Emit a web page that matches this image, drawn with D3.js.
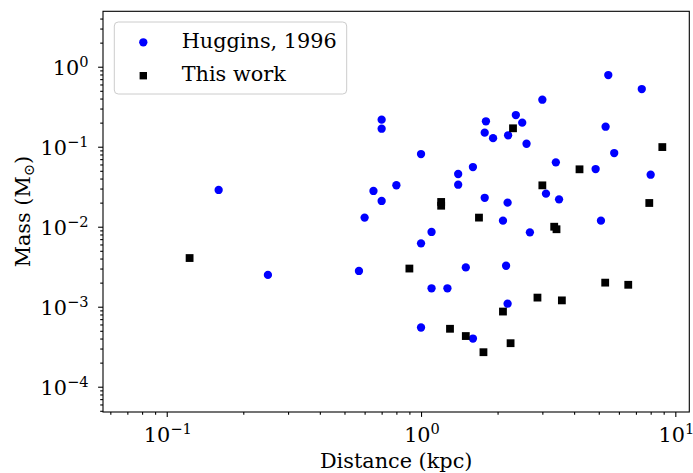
<!DOCTYPE html>
<html>
<head>
<meta charset="utf-8">
<script src="https://d3js.org/d3.v7.min.js"></script>
<style>
  body { margin: 0; background: #fff; }
  text { font-family: "DejaVu Serif", serif; fill: #000; }
</style>
</head>
<body>
<script>
"use strict";

// Huggins, 1996 (blue circles)
var hugDist = [0.16, 0.25, 0.57, 0.60, 0.65, 0.70, 0.70, 0.70, 0.80, 1.0, 1.0, 1.0, 1.1, 1.1, 1.27,
               1.4, 1.4, 1.5, 1.6, 1.6, 1.78, 1.78, 1.8, 1.92, 2.1, 2.16, 2.19, 2.19, 2.2, 2.36,
               2.5, 2.6, 2.68, 3.0, 3.1, 3.39, 3.49, 4.86, 5.1, 5.32, 5.45, 5.75, 7.38, 8.0];
var hugMass = [0.0288, 0.0025, 0.0028, 0.013, 0.028, 0.218, 0.168, 0.021, 0.033, 0.081, 0.0062, 0.00055, 0.0086, 0.0017, 0.0017,
               0.0456, 0.0335, 0.0031, 0.0557, 0.0004, 0.023, 0.150, 0.208, 0.128, 0.0119, 0.00325, 0.020, 0.00109, 0.139, 0.249,
               0.200, 0.109, 0.0085, 0.387, 0.0259, 0.0638, 0.022, 0.0526, 0.0119, 0.178, 0.787, 0.0834, 0.526, 0.0447];

// This work (black squares)
var workDist = [0.123, 0.90, 1.20, 1.20, 1.30, 1.50, 1.69, 1.76, 2.10, 2.25, 2.30,
                2.87, 3.0, 3.34, 3.41, 3.58, 4.20, 5.30, 6.53, 7.90, 8.89];
var workMass = [0.00406, 0.0030, 0.0204, 0.0183, 0.00053, 0.00043, 0.0130, 0.00027, 0.00087, 0.00035, 0.170,
                0.0013, 0.0329, 0.0100, 0.0093, 0.0012, 0.0522, 0.0020, 0.00188, 0.0198, 0.099];

var seriesNames = ["Huggins, 1996", "This work"];
var xTickExp = [-1, 0, 1];
var yTickExp = [-4, -3, -2, -1, 0];

var W = 693, H = 473;
var padL = 103, padT = 11.3, padR = 689.3, padB = 412;
var fs = 20.8, supFs = 14.6;

var svg = d3.select("body").append("svg")
    .attr("width", W)
    .attr("height", H);

var x = d3.scaleLog().domain([0.05615, 11.35]).range([padL, padR]);
var y = d3.scaleLog().domain([4.83e-5, 4.93]).range([padB, padT]);

// minor ticks 2..9 x 10^k inside the domain
function minors(scale) {
    var d = scale.domain(), out = [];
    for (var k = -6; k <= 2; k++) {
        for (var m = 2; m <= 9; m++) {
            var v = m * Math.pow(10, k);
            if (v >= d[0] && v <= d[1]) out.push(v);
        }
    }
    return out;
}
var pow10 = function (e) { return Math.pow(10, e); };

// x axis ticks
var gx = svg.append("g").attr("transform", "translate(0," + padB + ")");
gx.call(d3.axisBottom(x).tickValues(xTickExp.map(pow10)).tickSize(4.9).tickFormat(""));
gx.append("g").call(d3.axisBottom(x).tickValues(minors(x)).tickSize(2.8).tickFormat(""));
gx.selectAll(".domain").remove();

// y axis ticks
var gy = svg.append("g").attr("transform", "translate(" + padL + ",0)");
gy.call(d3.axisLeft(y).tickValues(yTickExp.map(pow10)).tickSize(4.9).tickFormat(""));
gy.append("g").call(d3.axisLeft(y).tickValues(minors(y)).tickSize(2.8).tickFormat(""));
gy.selectAll(".domain").remove();
svg.selectAll(".tick line").attr("stroke", "#000").attr("stroke-width", 1.1);

function expLabel(sel, e) {
    sel.append("tspan").text("10");
    sel.append("tspan")
        .attr("dy", -8)
        .attr("font-size", supFs)
        .text(e < 0 ? "\u2212" + (-e) : String(e));
}

xTickExp.forEach(function (e) {
    var t = svg.append("text")
        .attr("x", x(pow10(e)) + 1)
        .attr("y", padB + 29.7)
        .attr("text-anchor", "middle")
        .attr("font-size", fs);
    expLabel(t, e);
});

yTickExp.forEach(function (e) {
    var t = svg.append("text")
        .attr("x", 88.5)
        .attr("y", y(pow10(e)) + 8.4)
        .attr("text-anchor", "end")
        .attr("font-size", fs);
    expLabel(t, e);
});

// axis titles
svg.append("text")
    .attr("x", (padL + padR) / 2)
    .attr("y", 468.3)
    .attr("text-anchor", "middle")
    .attr("font-size", fs)
    .text("Distance (kpc)");

var yl = svg.append("text")
    .attr("transform", "translate(30," + ((padT + padB) / 2) + ") rotate(-90)")
    .attr("text-anchor", "middle")
    .attr("font-size", fs);
yl.append("tspan").text("Mass (M");
yl.append("tspan").attr("dy", 3.5).attr("font-size", supFs).text("\u2299");
yl.append("tspan").attr("dy", -3.5).text(")");

// data
var hug = hugDist.map(function (d, i) { return [d, hugMass[i]]; });
var work = workDist.map(function (d, i) { return [d, workMass[i]]; });

var plot = svg.append("g");
plot.selectAll("circle.hug").data(hug).enter().append("circle")
    .attr("class", "hug")
    .attr("cx", function (d) { return x(d[0]); })
    .attr("cy", function (d) { return y(d[1]); })
    .attr("r", 4.15)
    .attr("fill", "#0000ff");

var sq = 7.8;
plot.selectAll("rect.work").data(work).enter().append("rect")
    .attr("class", "work")
    .attr("x", function (d) { return x(d[0]) - sq / 2; })
    .attr("y", function (d) { return y(d[1]) - sq / 2; })
    .attr("width", sq)
    .attr("height", sq)
    .attr("fill", "#000");

// frame
svg.append("rect")
    .attr("x", padL).attr("y", padT)
    .attr("width", padR - padL).attr("height", padB - padT)
    .attr("fill", "none")
    .attr("stroke", "#000")
    .attr("stroke-width", 1.1);

// legend
var lg = svg.append("g");
lg.append("rect")
    .attr("x", 114.3).attr("y", 22)
    .attr("width", 232.4).attr("height", 72)
    .attr("rx", 4)
    .attr("fill", "#fff").attr("fill-opacity", 0.8)
    .attr("stroke", "#cccccc").attr("stroke-width", 1);
lg.append("circle").attr("cx", 143.3).attr("cy", 42.3).attr("r", 4.15).attr("fill", "#0000ff");
lg.append("rect").attr("x", 143.3 - 3.7).attr("y", 75.7 - 3.7).attr("width", 7.4).attr("height", 7.4).attr("fill", "#000");
lg.append("text").attr("x", 181.7).attr("y", 48.3).attr("font-size", fs).text(seriesNames[0]);
lg.append("text").attr("x", 181.7).attr("y", 81).attr("font-size", fs).text(seriesNames[1]);
</script>
</body>
</html>
